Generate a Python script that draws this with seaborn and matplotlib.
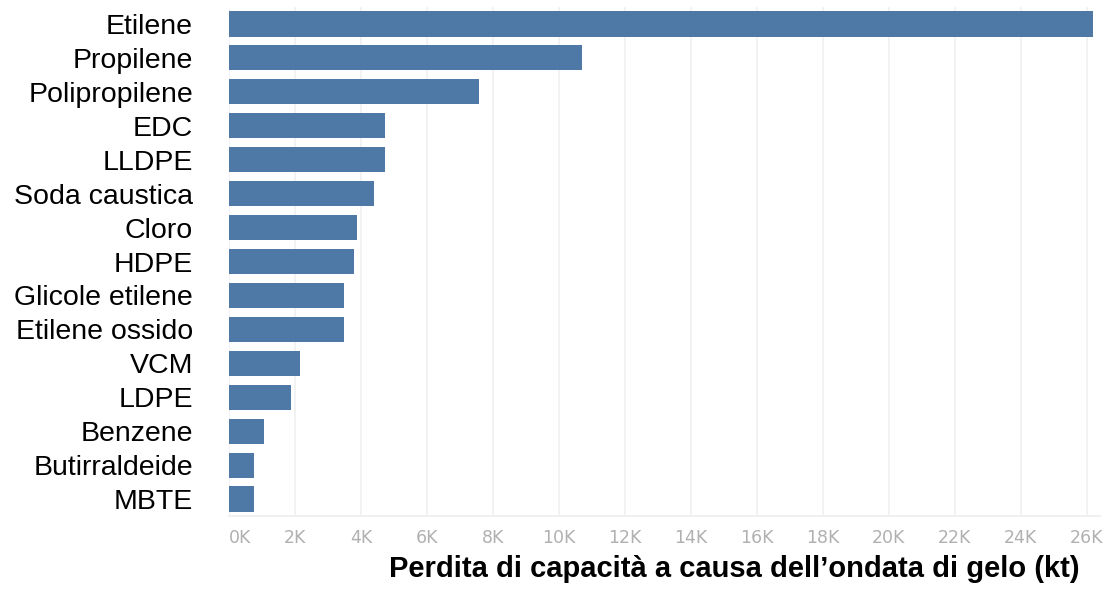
import matplotlib
matplotlib.use("Agg")
import matplotlib.pyplot as plt
import seaborn as sns
import pandas as pd

categories = ["Etilene", "Propilene", "Polipropilene", "EDC", "LLDPE", "Soda caustica",
              "Cloro", "HDPE", "Glicole etilene", "Etilene ossido", "VCM", "LDPE",
              "Benzene", "Butirraldeide", "MBTE"]
values = [26200, 10700, 7580, 4740, 4740, 4390, 3880, 3790, 3480, 3480, 2150, 1870, 1050, 770, 770]
tick_values = list(range(0, 26001, 2000))
tick_labels = [f"{v // 1000}K" for v in tick_values]
x_label = "Perdita di capacità a causa dell\u2019ondata di gelo (kt)"

df = pd.DataFrame({"Prodotto": categories, "Perdita": values})

sns.set_theme(style="white")
plt.rcParams["font.family"] = ["Liberation Sans", "DejaVu Sans"]

W, H = 1103, 589
fig = plt.figure(figsize=(W / 100, H / 100), dpi=100)
left, right = 229 / W, 1100 / W
top, bottom = 1 - 6.8 / H, 1 - 516.2 / H
ax = fig.add_axes([left, bottom, right - left, top - bottom])

sns.barplot(data=df, y="Prodotto", x="Perdita", order=categories, color="#4e79a7",
            saturation=1, width=0.75, linewidth=0, ax=ax, orient="h")

ax.set_xlim(0, 26400)
ax.set_xticks(tick_values)
ax.set_xticklabels(tick_labels, color="#b0b0b0", fontsize=12.5, family="DejaVu Sans")
ax.get_xticklabels()[0].set_ha("left")
ax.tick_params(axis="x", length=0, pad=9)
ax.tick_params(axis="y", length=0, pad=26, labelsize=20.5, labelcolor="black")
ax.set_ylabel("")
ax.grid(axis="x", color="#f0f0f0", linewidth=1.2)
ax.set_axisbelow(True)
for s in ["top", "right", "left"]:
    ax.spines[s].set_visible(False)
ax.spines["bottom"].set_color("#eeeeee")

ax.set_xlabel(x_label, fontsize=21, fontweight="bold", color="black",
              family=["Liberation Sans", "DejaVu Sans"], fontstretch="normal")
ax.xaxis.label.set_va("center")
ax.xaxis.set_label_coords((734 - 229) / (1100 - 229), -(569 - 516.2) / (516.2 - 6.8))

fig.savefig("out.png", dpi=100)
